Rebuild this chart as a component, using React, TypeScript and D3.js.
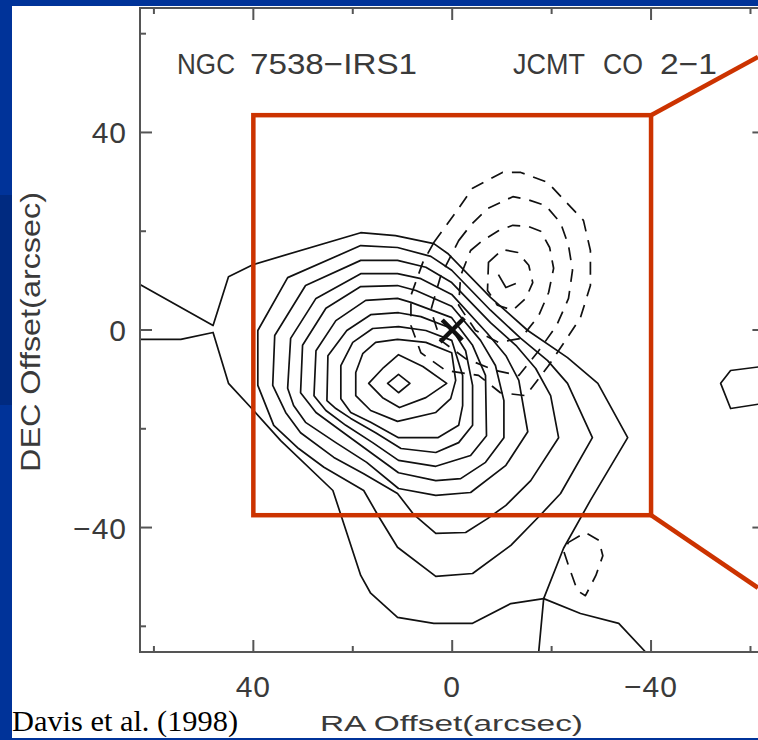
import * as d3 from "d3";

const W = 758;
const H = 740;

// plot ranges in arcsec (RA grows to the left)
const raRange = [62.8, -62.8];
const decRange = [65.2, -65.2];
const majorTicks = [40, 0, -40];
const minorTicks = [60, 20, -20, -60];
const tickLabels = ["40", "0", "\u221240"];

// solid CO 2-1 contours, [RA offset, DEC offset] in arcsec, inner to outer
const co1 = [[13.0, -10.8], [10.8, -9.0], [8.5, -10.8], [10.8, -12.7]];
const co2 = [[16.8, -10.8], [13.8, -7.6], [10.8, -5.0], [5.9, -7.4], [1.1, -10.8], [5.3, -13.7], [10.6, -15.7], [14.0, -13.7]];
const co3 = [[19.4, -13.3], [19.4, -8.6], [18.0, -4.8], [15.4, -2.5], [11.0, -1.9], [5.3, -2.5], [0.1, -4.6], [-0.7, -10.2], [0.3, -13.9], [3.3, -16.7], [11.0, -18.5], [16.4, -16.3]];
const co4 = [[22.4, -13.9], [22.4, -7.2], [20.0, -2.5], [16.0, 0.3], [10.8, 0.7], [5.3, -0.1], [0.1, -2.1], [-2.1, -9.2], [-2.1, -15.3], [-1.3, -19.3], [2.9, -21.8], [10.8, -21.8], [16.4, -18.7], [20.4, -16.7]];
const co5 = [[25.2, -14.3], [25.0, -5.2], [21.2, -0.1], [16.4, 3.1], [10.8, 3.5], [6.3, 2.7], [0.1, 0.3], [-2.7, -4.2], [-4.1, -11.2], [-4.1, -19.3], [-1.3, -22.8], [3.3, -24.8], [10.3, -24.0], [15.4, -20.8], [20.4, -17.9], [23.4, -15.9]];
const co6 = [[27.8, -13.3], [27.4, -4.2], [23.4, 1.9], [17.4, 6.0], [11.0, 6.4], [8.3, 5.6], [0.1, 2.5], [-4.1, -3.1], [-6.7, -9.2], [-6.9, -21.4], [-3.7, -25.4], [3.3, -27.6], [10.8, -26.4], [16.0, -22.8], [21.4, -19.3], [25.4, -16.3]];
const co7 = [[30.5, -12.7], [30.1, -3.1], [25.4, 4.4], [18.4, 8.8], [11.0, 9.0], [7.3, 8.0], [0.1, 4.8], [-5.7, -2.1], [-8.7, -7.2], [-10.4, -14.3], [-10.4, -21.8], [-6.7, -26.8], [-1.7, -30.1], [3.3, -30.5], [10.8, -28.9], [16.4, -24.8], [22.4, -20.4], [27.4, -16.7]];
const co8 = [[33.1, -11.8], [32.5, -1.7], [27.4, 6.4], [18.4, 11.4], [11.0, 11.4], [6.3, 10.4], [0.1, 7.2], [-7.1, -0.7], [-10.8, -5.2], [-13.4, -10.2], [-15.2, -20.6], [-10.8, -27.4], [-3.7, -32.9], [3.3, -33.5], [10.8, -32.1], [17.2, -26.8], [23.4, -22.8], [29.5, -18.7], [31.9, -15.3]];
const co9 = [[36.1, -11.2], [35.7, -1.1], [29.5, 9.0], [18.4, 14.1], [11.0, 14.1], [5.3, 12.7], [0.1, 9.6], [-7.7, 1.5], [-12.8, -3.1], [-16.8, -7.8], [-19.8, -13.3], [-21.4, -21.8], [-15.8, -30.5], [-10.8, -35.5], [-7.1, -38.2], [-2.7, -41.0], [3.3, -41.2], [7.7, -37.4], [11.0, -33.1], [17.8, -29.1], [23.8, -25.8], [30.5, -20.8], [33.5, -16.7]];
const co10 = [[39.1, -11.2], [39.1, -0.1], [33.1, 10.6], [18.4, 17.1], [11.0, 16.7], [4.3, 14.9], [0.1, 12.1], [-7.7, 4.0], [-13.8, -1.7], [-19.2, -6.2], [-23.2, -10.8], [-28.2, -21.8], [-21.8, -33.1], [-17.8, -37.4], [-11.8, -43.6], [-4.1, -49.3], [3.3, -49.9], [11.0, -44.0], [15.0, -37.4], [17.8, -32.5], [25.8, -27.8], [30.9, -24.0], [35.9, -19.3]];
const eastBlob = [[-63, -7.3], [-56.0, -8.2], [-54.0, -10.8], [-56.0, -15.9], [-63, -14.8]];

// lowest solid level, open at the map edges
const outerUpper = [[62.8, 9.2], [48.1, 0.9], [45.0, 10.8], [39.9, 13.3], [18.4, 19.7], [11.4, 19.1], [3.7, 17.5], [0.9, 15.5], [-7.7, 6.6], [-15.2, -0.1], [-23.2, -5.6], [-29.3, -10.8], [-35.3, -21.8], [-27.8, -34.5], [-22.4, -44.2], [-18.4, -54.4], [-17.4, -65.2]];
const outerLower = [[62.8, -1.9], [54.6, -1.9], [48.1, -0.5], [45.0, -10.8], [40.5, -15.7], [34.5, -22.4], [24.0, -32.5], [22.4, -37.4], [18.4, -49.7], [16.4, -53.3], [11.0, -58.2], [3.7, -59.4], [-4.1, -59.4], [-11.8, -55.4], [-18.4, -54.4], [-25.8, -57.4], [-33.5, -59.4], [-38.9, -65.2]];

// dashed contours
const dash1 = [[3.7, 17.7], [-0.7, 23.8], [-4.1, 28.7], [-10.1, 31.9], [-13.8, 31.9], [-19.2, 29.9], [-23.2, 25.6], [-26.4, 22.2], [-27.8, 16.1], [-27.8, 9.0], [-25.8, 2.5], [-22.8, -2.1], [-19.4, -7.2], [-14.8, -13.3], [-9.7, -12.7], [-5.3, -9.2], [1.3, -8.2], [6.3, -4.6], [8.3, 0.9], [8.3, 7.0], [5.9, 13.7]];
const dash2 = [[-1.3, 18.1], [-3.7, 21.2], [-7.1, 24.6], [-12.2, 27.0], [-15.2, 26.4], [-18.8, 25.2], [-21.8, 21.7], [-23.4, 17.1], [-24.2, 12.1], [-23.4, 6.4], [-21.0, 0.9], [-17.4, -4.2], [-13.4, -9.2], [-8.7, -8.2], [-2.7, -5.8], [2.3, -2.1], [4.3, 4.0], [2.3, 11.0]];
const dash3 = [[-3.7, 16.1], [-6.1, 18.1], [-9.3, 20.1], [-12.2, 21.2], [-15.2, 21.0], [-17.8, 20.0], [-19.6, 16.7], [-20.4, 12.5], [-19.4, 7.6], [-17.4, 2.9], [-13.8, -1.7], [-9.3, -2.5], [-4.7, -0.1], [-1.3, 5.0], [-1.7, 11.0]];
const dash4 = [[-7.3, 13.7], [-10.1, 16.3], [-13.2, 15.7], [-15.4, 13.1], [-16.2, 9.6], [-14.8, 6.4], [-12.2, 4.0], [-9.1, 5.0], [-7.1, 8.0]];
const dash5 = [[-9.3, 11.2], [-10.8, 8.6], [-12.8, 9.4]];
const dashSouth = [[-23.4, -43.0], [-26.8, -41.0], [-29.5, -42.6], [-30.3, -45.7], [-28.9, -49.7], [-26.8, -53.8], [-25.2, -52.8], [-23.4, -47.7], [-22.4, -44.7]];

// IRS1 position
const source = [0, 0];

// red zoom frame and its leader lines (slide overlay)
const boxRa = [40, -40];
const boxDec = [43.5, -37.5];
const leadTop = [[-40, 43.5], [-61.5, 55.3]];
const leadBottom = [[-40, -37.5], [-61.5, -52.2]];

const solidClosed = [co1, co2, co3, co4, co5, co6, co7, co8, co9, co10, eastBlob];
const solidOpen = [outerUpper, outerLower];
const dashedClosed = [dash1, dash2, dash3, dash4, dashSouth];

const FONT = "'Liberation Sans', Arial, Helvetica, sans-serif";
const INK = "#3a3a3a";
const RED = "#cc3300";

export default function App() {
  const x = d3.scaleLinear().domain(raRange).range([140, 764.4]);
  const y = d3.scaleLinear().domain(decRange).range([8, 652]);
  const left = x(raRange[0]);
  const right = x(raRange[1]);
  const top = y(decRange[0]);
  const bottom = y(decRange[1]);

  const open = d3.line<number[]>().x((d) => x(d[0])).y((d) => y(d[1]));
  const closed = d3
    .line<number[]>()
    .x((d) => x(d[0]))
    .y((d) => y(d[1]))
    .curve(d3.curveLinearClosed);

  const sx = x(source[0]);
  const sy = y(source[1]);
  const arm = 12;

  return (
    <div style={{ position: "fixed", left: 0, top: 0, width: W, height: H }}>
      <svg width={W} height={H} viewBox={`0 0 ${W} ${H}`} style={{ display: "block" }}>
        <defs>
          <clipPath id="plotArea">
            <rect x={left} y={top} width={right - left} height={bottom - top} />
          </clipPath>
        </defs>
        {/* slide background */}
        <rect x={0} y={0} width={W} height={H} fill="#003399" />
        <rect x={0} y={195} width={12} height={210} fill="#002a80" />
        <rect x={12} y={6} width={W - 12} height={732} fill="#fff" />

        {/* contours */}
        <g clipPath="url(#plotArea)" fill="none" stroke="#111" strokeWidth={1.7} strokeLinejoin="round">
          {solidClosed.map((c, i) => (
            <path key={"s" + i} d={closed(c) || ""} />
          ))}
          {solidOpen.map((c, i) => (
            <path key={"o" + i} d={open(c) || ""} />
          ))}
          {dashedClosed.map((c, i) => (
            <path key={"d" + i} d={closed(c) || ""} strokeDasharray="13 9" />
          ))}
          <path d={open(dash5) || ""} />
        </g>

        {/* source cross */}
        <g stroke="#111" strokeWidth={4.5} strokeLinecap="butt">
          <line x1={sx - arm} y1={sy + arm} x2={sx + arm} y2={sy - arm} />
          <line x1={sx - arm + 2} y1={sy - arm + 2} x2={sx + arm - 2} y2={sy + arm - 2} />
        </g>

        {/* frame and ticks */}
        <g stroke="#555" strokeWidth={2} fill="none">
          <rect x={left} y={top} width={right - left} height={bottom - top} />
          {majorTicks.map((v) => (
            <g key={"M" + v}>
              <line x1={x(v)} x2={x(v)} y1={bottom} y2={bottom - 12} />
              <line x1={x(v)} x2={x(v)} y1={top} y2={top + 12} />
              <line x1={left} x2={left + 12} y1={y(v)} y2={y(v)} />
              <line x1={right} x2={right - 12} y1={y(v)} y2={y(v)} />
            </g>
          ))}
          {minorTicks.map((v) => (
            <g key={"m" + v}>
              <line x1={x(v)} x2={x(v)} y1={bottom} y2={bottom - 6} />
              <line x1={x(v)} x2={x(v)} y1={top} y2={top + 6} />
              <line x1={left} x2={left + 6} y1={y(v)} y2={y(v)} />
              <line x1={right} x2={right - 6} y1={y(v)} y2={y(v)} />
            </g>
          ))}
        </g>

        {/* tick labels */}
        <g fontFamily={FONT} fontSize={30} fill={INK} letterSpacing={1}>
          {majorTicks.map((v, i) => (
            <text key={"yl" + v} x={left - 13} y={y(v) + 11} textAnchor="end">
              {tickLabels[i]}
            </text>
          ))}
          {majorTicks.map((v, i) => (
            <text key={"xl" + v} x={x(v)} y={697} textAnchor="middle">
              {tickLabels[i]}
            </text>
          ))}
        </g>

        {/* titles */}
        <g fontFamily={FONT} fontSize={29} fill={INK}>
          <text x={177} y={74} textLength={58} lengthAdjust="spacingAndGlyphs">NGC</text>
          <text x={250} y={74} textLength={167} lengthAdjust="spacingAndGlyphs">7538{"\u2212"}IRS1</text>
          <text x={513} y={74} textLength={72} lengthAdjust="spacingAndGlyphs">JCMT</text>
          <text x={603} y={74} textLength={40} lengthAdjust="spacingAndGlyphs">CO</text>
          <text x={660} y={74} textLength={57} lengthAdjust="spacingAndGlyphs">2{"\u2212"}1</text>
        </g>
        <text x={320} y={731} fontFamily={FONT} fontSize={22} fill={INK} textLength={263} lengthAdjust="spacingAndGlyphs">
          RA Offset(arcsec)
        </text>
        <text
          transform="translate(40,472) rotate(-90)"
          x={0}
          y={0}
          fontFamily={FONT}
          fontSize={28}
          fill={INK}
          textLength={280}
          lengthAdjust="spacingAndGlyphs"
        >
          DEC Offset(arcsec)
        </text>

        {/* red zoom box */}
        <g stroke={RED} strokeWidth={4.5} fill="none">
          <rect x={x(boxRa[0])} y={y(boxDec[0])} width={x(boxRa[1]) - x(boxRa[0])} height={y(boxDec[1]) - y(boxDec[0])} />
          <path d={open(leadTop) || ""} />
          <path d={open(leadBottom) || ""} />
        </g>

        <text
          x={12}
          y={731}
          fontFamily="'Liberation Serif', 'Times New Roman', serif"
          fontSize={30}
          fill="#000"
          textLength={226}
          lengthAdjust="spacingAndGlyphs"
        >
          Davis et al. (1998)
        </text>
      </svg>
    </div>
  );
}
